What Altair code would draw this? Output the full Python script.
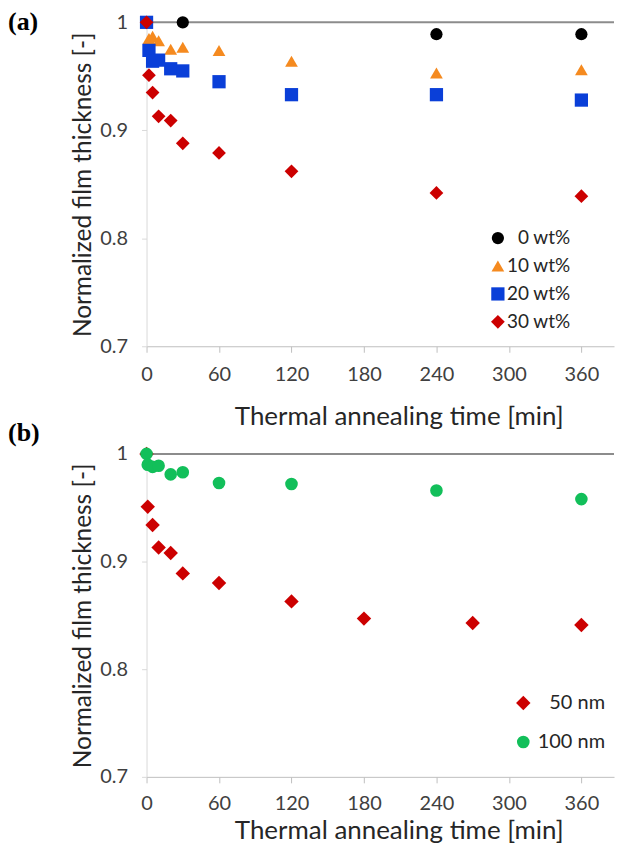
import altair as alt
import pandas as pd

# ---------------- data ----------------
series_a = ["0 wt%", "10 wt%", "20 wt%", "30 wt%"]
t_a = [0, 2, 5, 10, 20, 30, 60, 120, 240, 360]
t_wt0 = [0, 30, 240, 360]
y_wt0 = [1.0, 1.0, 0.989, 0.989]
y_wt10 = [1.0, 0.985, 0.987, 0.983, 0.975, 0.977, 0.974, 0.964, 0.953, 0.956]
y_wt20 = [1.0, 0.974, 0.964, 0.965, 0.957, 0.955, 0.945, 0.933, 0.933, 0.928]
y_wt30 = [1.0, 0.951, 0.935, 0.913, 0.909, 0.888, 0.879, 0.862, 0.842, 0.839]

series_b = ["50 nm", "100 nm"]
t_50 = [0, 1, 5, 10, 20, 30, 60, 120, 180, 270, 360]
y_50 = [1.0, 0.951, 0.934, 0.913, 0.908, 0.889, 0.880, 0.863, 0.847, 0.843, 0.841]
t_100 = [0, 1, 5, 10, 20, 30, 60, 120, 240, 360]
y_100 = [1.0, 0.990, 0.988, 0.989, 0.981, 0.983, 0.973, 0.972, 0.966, 0.958]

x_ticks = [0, 60, 120, 180, 240, 300, 360]
y_ticks = [0.7, 0.8, 0.9, 1.0]

colors_a = ["#000000", "#F58A1F", "#0A3FD8", "#CC0000"]
shapes_a = ["circle", "triangle-up", "square", "diamond"]
sizes_a = [150, 190, 150, 190]

colors_b = ["#CC0000", "#12BF5A"]
shapes_b = ["diamond", "circle"]
sizes_b = [210, 160]

FONT = "Lato"

def make_df(names, ts, ys):
    rows = []
    for n, tt, yy in zip(names, ts, ys):
        for a, b in zip(tt, yy):
            rows.append({"series": n, "t": a, "y": b})
    return pd.DataFrame(rows)

df_a = make_df(series_a, [t_wt0, t_a, t_a, t_a], [y_wt0, y_wt10, y_wt20, y_wt30])
df_b = make_df(series_b, [t_50, t_100], [y_50, y_100])

XMAX = 387

def panel(df, names, colors, shapes, sizes, tag, tag_y, leg_x, leg_y, leg_pad, leg_font,
          leg_off, width, height, lab_pad, title_pad):
    xs = alt.Scale(domain=[0, XMAX], nice=False, zero=False)
    ys = alt.Scale(domain=[0.7, 1.0], nice=False, zero=False)
    xaxis = alt.Axis(values=x_ticks, title="Thermal annealing time [min]", grid=False,
                     domainColor="#BFBFBF", tickColor="#BFBFBF", tickSize=6,
                     labelPadding=lab_pad, titlePadding=title_pad, titleX=253,
                     labelFlush=False, titleFontSize=26)
    yaxis = alt.Axis(values=y_ticks, format=".1~f", title="Normalized film thickness [-]",
                     grid=False, domainColor="#D9D9D9", tickColor="#D9D9D9", tickSize=5,
                     labelPadding=14, titlePadding=4, titleFontSize=24.5)
    rule = alt.Chart(pd.DataFrame({"y": [1.0]})).mark_rule(color="#8C8C8C", strokeWidth=2).encode(
        y=alt.Y("y:Q", scale=ys, axis=yaxis),
    )
    legend = alt.Legend(title=None, orient="none", legendX=leg_x, legendY=leg_y,
                        labelFont=FONT, labelFontSize=leg_font, labelColor="#262626",
                        rowPadding=leg_pad, labelOffset=leg_off, labelAlign="right")
    pts = alt.Chart(df).mark_point(filled=True, opacity=1).encode(
        x=alt.X("t:Q", scale=xs, axis=xaxis),
        y=alt.Y("y:Q", scale=ys, axis=yaxis),
        color=alt.Color("series:N", scale=alt.Scale(domain=names, range=colors), legend=legend),
        shape=alt.Shape("series:N", scale=alt.Scale(domain=names, range=shapes), legend=legend),
        size=alt.Size("series:N", scale=alt.Scale(domain=names, range=sizes), legend=legend),
        order=alt.Order("idx:Q"),
    ).transform_calculate(idx="indexof(" + str(names) + ", datum.series)")
    tag_mark = alt.Chart(pd.DataFrame({"l": [tag]})).mark_text(
        font="Liberation Serif", fontWeight="bold", fontSize=26, align="left", baseline="middle",
        color="#000000",
    ).encode(x=alt.value(-139), y=alt.value(tag_y), text="l:N")
    return alt.layer(rule, pts, tag_mark).properties(width=width, height=height)

pa = panel(df_a, series_a, colors_a, shapes_a, sizes_a, "(a)", 0, 343, 207, 8, 19, 63,
           469, 325, 12, 19)
pb = panel(df_b, series_b, colors_b, shapes_b, sizes_b, "(b)", -21, 368, 240, 19, 20, 72,
           469, 324, 11, 4)

chart = alt.vconcat(pa, pb, spacing=108, bounds="flush").resolve_scale(
    color="independent", shape="independent", size="independent"
).configure_view(stroke=None).configure_axis(
    labelFont=FONT, titleFont=FONT, labelFontSize=20,
    labelColor="#404040", titleColor="#262626", titleFontWeight="normal",
).properties(padding={"top": 0, "left": 0, "right": 0, "bottom": 0})

chart.save("out.html", embed_options={"renderer": "svg", "actions": False})
